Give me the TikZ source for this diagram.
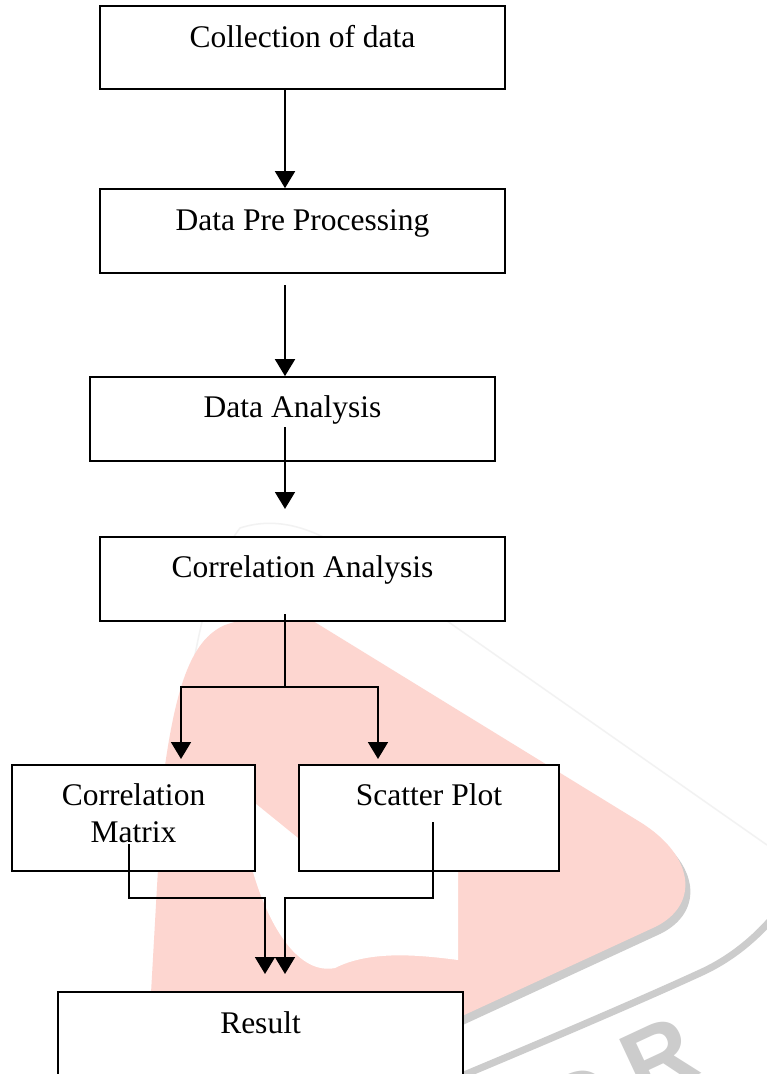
\documentclass[tikz,border=0pt]{standalone}
\usepackage{fontspec}
\setmainfont{Liberation Serif}
\setsansfont{Liberation Sans}
\usetikzlibrary{arrows.meta}
\definecolor{wmpink}{RGB}{253,214,208}
\definecolor{wmgray}{RGB}{204,204,204}
\definecolor{wmfaint}{RGB}{242,242,242}
\tikzset{
  box/.style={draw=black, fill=white, line width=1.7pt, inner sep=0pt, rectangle},
  txt/.style={anchor=base, inner sep=0pt, font=\fontsize{31.5}{37}\selectfont},
  conn/.style={draw=black, line width=1.7pt},
  arr/.style={conn, -{Triangle[length=17pt,width=20pt]}},
  wmtext/.style={text=wmgray, inner sep=0pt, font=\sffamily\bfseries\fontsize{95}{95}\selectfont, rotate=25}
}
\begin{document}
\begin{tikzpicture}[x=1pt,y=-1pt]
\useasboundingbox (0,0) rectangle (767,1074);
\clip (0,0) rectangle (767,1074);
\fill[white] (0,0) rectangle (767,1074);

% ---- watermark ----
\draw[wmfaint, line width=1.5pt] (150,1080) .. controls (175,800) and (185,600) .. (240,528) .. controls (280,515) and (320,530) .. (360,560) -- (767,845);
\fill[wmgray, shift={(5,7)}] (145,1100) -- (163,780) .. controls (175,690) and (190,640) .. (225,625) .. controls (250,616) and (290,612) .. (313,621) -- (640,822) .. controls (695,856) and (700,905) .. (655,927) -- (280,1100) -- cycle;
\fill[wmpink] (145,1100) -- (163,780) .. controls (175,690) and (190,640) .. (225,625) .. controls (250,616) and (290,612) .. (313,621) -- (640,822) .. controls (695,856) and (700,905) .. (655,927) -- (280,1100) -- cycle;
\fill[white] (240,791) -- (330,864) -- (458,864) -- (458,960) .. controls (420,955) and (370,950) .. (335,968) .. controls (300,975) and (270,930) .. (253,872) -- cycle;
\draw[wmgray, line width=7pt] (790,895) .. controls (770,925) and (740,955) .. (700,973) .. controls (650,996) and (560,1035) .. (440,1085);
\node[wmtext] (wmR) at (659,1057) {R};
\node[wmtext] (wmC) at (580,1106) {C};

% ---- boxes ----
\node[box, minimum width=405pt, minimum height=83pt] (b1) at (302.5,47.5) {};
\node[box, minimum width=405pt, minimum height=84pt] (b2) at (302.5,231) {};
\node[box, minimum width=405pt, minimum height=84pt] (b3) at (292.5,419) {};
\node[box, minimum width=405pt, minimum height=84pt] (b4) at (302.5,579) {};
\node[box, minimum width=243pt, minimum height=106pt] (b5) at (133.5,818) {};
\node[box, minimum width=260pt, minimum height=106pt] (b6) at (429,818) {};
\node[box, minimum width=405pt, minimum height=118pt] (b7) at (260.5,1051) {};

% ---- texts ----
\node[txt] (t1) at (302.5,47) {Collection of data};
\node[txt] (t2) at (302.5,230) {Data Pre Processing};
\node[txt] (t3) at (292.5,417) {Data Analysis};
\node[txt] (t4) at (302.5,577) {Correlation Analysis};
\node[txt] (t5a) at (133.5,805) {Correlation};
\node[txt] (t5b) at (133.5,842) {Matrix};
\node[txt] (t6) at (429,805) {Scatter Plot};
\node[txt] (t7) at (260.5,1033) {Result};

% ---- connector points ----
\coordinate (x285) at (285,0);
\coordinate (a2s) at (285,285);
\coordinate (a3s) at (285,427);
\coordinate (a3e) at (285,509);
\coordinate (a4s) at (285,614);
\coordinate (a4m) at (285,687);
\coordinate (a4l) at (181,759);
\coordinate (a4r) at (378,759);
\coordinate (a5s) at (129,844);
\coordinate (a6s) at (433,822);
\coordinate (hjoin) at (0,898);
\coordinate (a5e) at (265,974);
\coordinate (a6e) at (285,974);

% ---- connectors ----
\draw[arr] (b1.south -| x285) -- (b2.north -| x285);
\draw[arr] (a2s) -- (b3.north -| x285);
\draw[arr] (a3s) -- (a3e);
\draw[conn] (a4s) -- (a4m);
\draw[arr] (a4m) -| (a4l);
\draw[arr] (a4m) -| (a4r);
\draw[arr] (a5s) |- (a5e |- hjoin) -- (a5e);
\draw[arr] (a6s) |- (a6e |- hjoin) -- (a6e);
\end{tikzpicture}
\end{document}
